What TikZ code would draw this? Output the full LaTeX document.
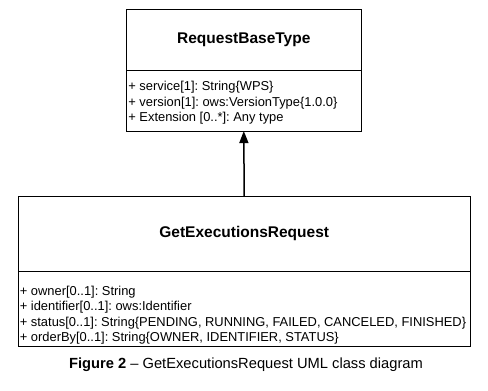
\documentclass[tikz,border=0pt]{standalone}
\usepackage{fontspec}
\setmainfont{Liberation Sans}
\usetikzlibrary{positioning,arrows.meta}
\tikzset{
  classtitle/.style={draw,line width=0.8pt,outer sep=0pt,align=center,
    font=\fontsize{15.5}{18}\selectfont\bfseries},
  classattr/.style={draw,line width=0.8pt,outer sep=0pt},
  attrtext/.style={inner sep=0pt,align=left,anchor=north west,
    font=\fontsize{12.9}{15.5}\selectfont\frenchspacing},
}
\begin{document}
\begin{tikzpicture}[x=1pt,y=-1pt]
\useasboundingbox (0,0) rectangle (488,391);
%base class
\node[classtitle,minimum width=234.5pt,minimum height=60.5pt] (basetitle) at (243.8,39.8) {RequestBaseType};
\node[classattr,below=0pt of basetitle,minimum width=234.5pt,minimum height=61pt] (baseattr) {};
\node[attrtext] (baselist) at ([shift={(1.6pt,-11pt)}]baseattr.north west)
  {+ service[1]: String\{WPS\}\\
   + version[1]: ows:VersionType\{1.0.0\}\\
   + Extension [0..*]: Any type};
%request class
\node[classtitle,minimum width=451.7pt,minimum height=74.3pt] (reqtitle) at (244.2,233.8) {GetExecutionsRequest};
\node[classattr,below=0pt of reqtitle,minimum width=451.7pt,minimum height=75pt] (reqattr) {};
\node[attrtext] (reqlist) at ([shift={(1.3pt,-14.5pt)}]reqattr.north west)
  {+ owner[0..1]: String\\
   + identifier[0..1]: ows:Identifier\\
   + status[0..1]: String\{PENDING, RUNNING, FAILED, CANCELED, FINISHED\}\\
   + orderBy[0..1]: String\{OWNER, IDENTIFIER, STATUS\}};
%generalization
\draw[-{Triangle[length=12pt,width=9pt]},line width=1.5pt] (reqtitle.north) -- (baseattr.south);
%caption
\node[font=\fontsize{14.7}{17}\selectfont] (caption) at (246,365) {\textbf{Figure 2} -- GetExecutionsRequest UML class diagram};
\end{tikzpicture}
\end{document}
